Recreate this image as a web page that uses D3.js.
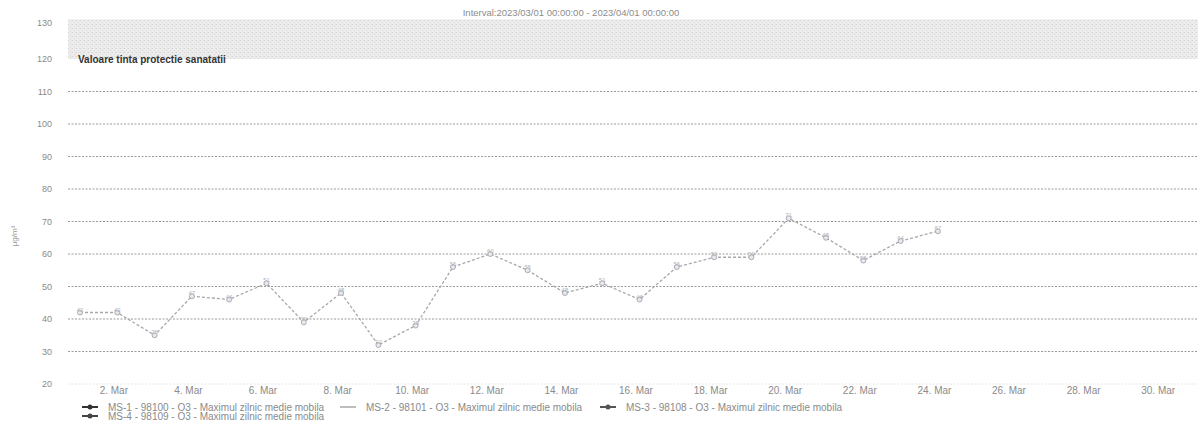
<!DOCTYPE html>
<html><head><meta charset="utf-8">
<script src="https://cdn.jsdelivr.net/npm/d3@7"></script>
<style>body{margin:0;background:#fff;} svg{display:block;font-family:"Liberation Sans",Arial,sans-serif;}</style>
</head><body><svg id="c" width="1198" height="423"></svg>
<script>
const titleText = "Interval:2023/03/01 00:00:00 - 2023/04/01 00:00:00";
const bandLabel = "Valoare tinta protectie sanatatii";
const yTitle = "µg/m³";
const dates = ["2023-03-01","2023-03-02","2023-03-03","2023-03-04","2023-03-05","2023-03-06","2023-03-07","2023-03-08","2023-03-09","2023-03-10","2023-03-11","2023-03-12","2023-03-13","2023-03-14","2023-03-15","2023-03-16","2023-03-17","2023-03-18","2023-03-19","2023-03-20","2023-03-21","2023-03-22","2023-03-23","2023-03-24"];
const values = [42,42,35,47,46,51,39,48,32,38,56,60,55,48,51,46,56,59,59,71,65,58,64,67];
const yTicks = [20,30,40,50,60,70,80,90,100,110,120,130];
const xTickDays = [2,4,6,8,10,12,14,16,18,20,22,24,26,28,30];
const legendNames = ["MS-1 - 98100 - O3 - Maximul zilnic medie mobila","MS-2 - 98101 - O3 - Maximul zilnic medie mobila","MS-3 - 98108 - O3 - Maximul zilnic medie mobila","MS-4 - 98109 - O3 - Maximul zilnic medie mobila"];
const bandFrom = 120, bandTo = 131;

const svg = d3.select("#c");
const left = 68, right = 1198;
const parse = d3.timeParse("%Y-%m-%d");
const x = d3.scaleTime().domain([parse("2023-03-01"), parse("2023-03-31")]).range([80, 1199]);
const y = d3.scaleLinear().domain([20,120,130]).range([384,59,23]);

// band
const defs = svg.append("defs");
const pat = defs.append("pattern").attr("id","sp").attr("width",4).attr("height",4).attr("patternUnits","userSpaceOnUse");
pat.append("rect").attr("x",0).attr("y",0).attr("width",1).attr("height",1).attr("fill","#d2d2d2");
pat.append("rect").attr("x",2).attr("y",2).attr("width",1).attr("height",1).attr("fill","#d9d9d9");
pat.append("rect").attr("x",3).attr("y",0).attr("width",1).attr("height",1).attr("fill","#e0e0e0");
svg.append("rect").attr("x", left).attr("y", y(bandTo)).attr("width", right-left).attr("height", y(bandFrom)-y(bandTo)).attr("fill", "#ededed");
svg.append("rect").attr("x", left).attr("y", y(bandTo)).attr("width", right-left).attr("height", y(bandFrom)-y(bandTo)).attr("fill", "url(#sp)");

// grid
const gridTicks = yTicks.filter(t => t <= 110);
svg.append("g").selectAll("line").data(gridTicks).join("line")
  .attr("x1", left).attr("x2", right).attr("y1", d => y(d)).attr("y2", d => y(d))
  .attr("stroke", d => d === 20 ? "#e6e6e6" : "#9a9a9a").attr("stroke-width", 1).attr("stroke-dasharray", "2,1.5");

// y labels
const yAxis = d3.axisLeft(y).tickValues(yTicks).tickSize(0).tickPadding(0).tickFormat(d3.format("d"));
const ya = svg.append("g").attr("transform","translate(52,0)").call(yAxis);
ya.select(".domain").remove();
ya.selectAll("text").attr("fill","#8a8a8a").style("font-size","9px").attr("dy","0.32em");

svg.append("text").attr("transform","translate(17,236) rotate(-90)").attr("text-anchor","middle")
  .attr("fill","#9a9a9a").style("font-size","8px").text(yTitle);

// x labels
const xAxis = d3.axisBottom(x).tickValues(xTickDays.map(d => new Date(2023,2,d))).tickSize(0).tickPadding(0)
  .tickFormat(d => d3.timeFormat("%-d. %b")(d));
const xa = svg.append("g").attr("transform","translate(-4,391)").call(xAxis);
xa.select(".domain").remove();
xa.selectAll("text").attr("fill","#8a8a8a").style("font-size","10px").attr("dy","0.32em");

// title
svg.append("text").attr("x", 571).attr("y", 16).attr("text-anchor","middle").attr("fill","#8c8c8c").style("font-size","9.5px").text(titleText);
// band label
svg.append("text").attr("x", 78).attr("y", 63).attr("fill","#333").style("font-size","10px").style("font-weight","bold").text(bandLabel);

// series
const pts = dates.map((d,i) => ({d: parse(d), v: values[i]}));
const line = d3.line().x(p => x(p.d)).y(p => y(p.v));
svg.append("path").datum(pts).attr("d", line).attr("fill","none").attr("stroke","#a8a8a8").attr("stroke-width",1.3).attr("stroke-dasharray","3,2");
svg.append("g").selectAll("circle").data(pts).join("circle")
  .attr("cx", p => x(p.d)).attr("cy", p => y(p.v)).attr("r", 2.5)
  .attr("fill","#e8e8ef").attr("stroke","#9a9aa4").attr("stroke-width",0.8);
svg.append("g").selectAll("text").data(pts).join("text")
  .attr("x", p => x(p.d)).attr("y", p => y(p.v) - 1).attr("text-anchor","middle")
  .attr("fill","#b4b4bc").style("font-size","6px").text(p => p.v);

// legend
const legendPos = [[82,407],[340,407],[600,407],[82,416]];
const legendColors = ["#333","#bdbdbd","#555","#444"];
const lg = svg.append("g").selectAll("g").data(legendNames).join("g")
  .attr("transform", (d,i) => `translate(${legendPos[i][0]},${legendPos[i][1]})`);
lg.append("line").attr("x1",0).attr("x2",16).attr("y1",0).attr("y2",0).attr("stroke",(d,i)=>legendColors[i]).attr("stroke-width",2);
lg.append("circle").attr("cx",8).attr("cy",0).attr("r",(d,i)=> i===1?0:2.5).attr("fill",(d,i)=>legendColors[i]);
lg.append("text").attr("x",26).attr("y",0).attr("dy","0.35em").attr("fill","#8a8a8a").style("font-size","10px").text(d => d);
</script></body></html>
